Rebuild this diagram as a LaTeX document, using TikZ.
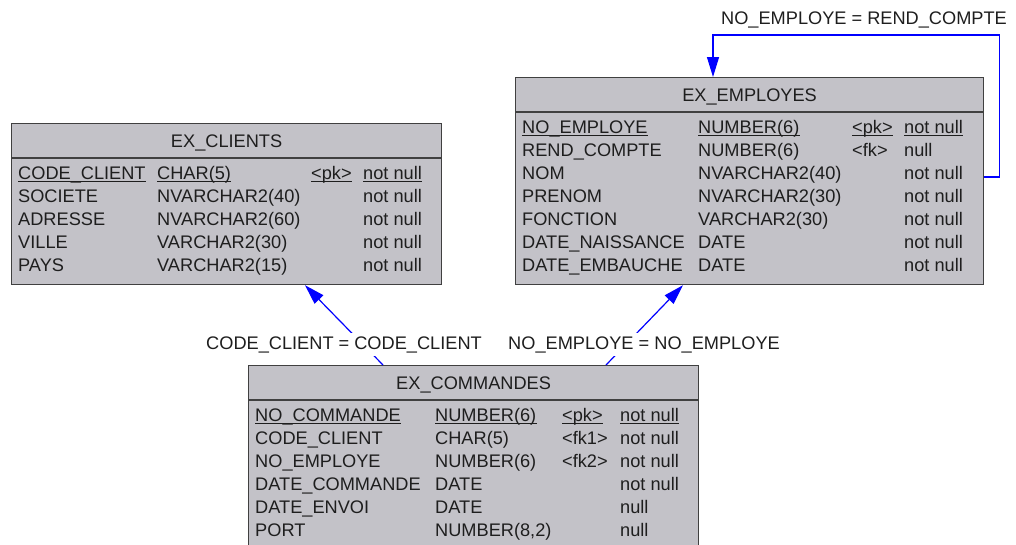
\documentclass[tikz,border=0pt]{standalone}
\usepackage{fontspec}
\setmainfont{Liberation Sans}
\usepackage{xcolor}
\usetikzlibrary{arrows.meta,positioning,calc}

\definecolor{tablefill}{RGB}{195,194,200}
\definecolor{tableborder}{RGB}{64,64,64}
\definecolor{tabletext}{RGB}{30,30,30}
\definecolor{fkblue}{RGB}{0,0,255}

\begin{document}
\begin{tikzpicture}[
  x=1pt, y=-1pt,
  tablebox/.style={rectangle, draw=tableborder, fill=tablefill, line width=1.2pt,
    inner sep=0pt, anchor=north west},
  hline/.style={draw=tableborder, line width=1.2pt},
  tabtitle/.style={font=\fontsize{18.2pt}{22pt}\selectfont, text=tabletext,
    anchor=base, inner sep=0pt},
  colcell/.style={font=\fontsize{18.2pt}{22pt}\selectfont, text=tabletext,
    anchor=base west, inner sep=0pt, text depth=2.7pt},
  pk/.style={colcell, append after command={(\tikzlastnode.south west)
    edge[draw=tabletext, line width=0.9pt] (\tikzlastnode.south east)}},
  joinlabel/.style={font=\fontsize{18.2pt}{22pt}\selectfont, text=tabletext,
    fill=white, inner sep=3pt, anchor=base},
  fk/.style={draw=fkblue, line width=1.2pt, -{Triangle[length=20pt, width=12pt]}},
]
  \useasboundingbox (0,0) rectangle (1016,544);

  % tables
  \node[tablebox, minimum width=430pt, minimum height=161pt] (clients) at (11,123) {};
  \node[tablebox, minimum width=468pt, minimum height=207pt] (employes) at (515,77) {};
  \node[tablebox, minimum width=450pt, minimum height=185pt] (commandes) at (248,365) {};

  \draw[hline] ([yshift=-35pt]clients.north west) -- ([yshift=-35pt]clients.north east);
  \draw[hline] ([yshift=-35pt]employes.north west) -- ([yshift=-35pt]employes.north east);
  \draw[hline] ([yshift=-35pt]commandes.north west) -- ([yshift=-35pt]commandes.north east);

  \node[tabtitle] (clients-title) at ([yshift=-24pt]clients.north) {EX\_CLIENTS};
  \node[tabtitle] (employes-title) at ([yshift=-24pt]employes.north) {EX\_EMPLOYES};
  \node[tabtitle] (commandes-title) at ([yshift=-24pt]commandes.north) {EX\_COMMANDES};

  % EX_CLIENTS
  \node[pk] (cli-nom-0) at ($(clients.north west)+(7,56)$) {CODE\_CLIENT};
  \node[pk] (cli-typ-0) at ($(clients.north west)+(146,56)$) {CHAR(5)};
  \node[pk] (cli-cle-0) at ($(clients.north west)+(300,56)$) {<pk>};
  \node[pk] (cli-nul-0) at ($(clients.north west)+(352,56)$) {not null};
  \foreach \nom/\typ/\nul [count=\i] in {SOCIETE/NVARCHAR2(40)/not null,
      ADRESSE/NVARCHAR2(60)/not null, VILLE/VARCHAR2(30)/not null,
      PAYS/VARCHAR2(15)/not null} {
    \node[colcell] (cli-nom-\i) at ($(clients.north west)+(7,56+23*\i)$) {\nom};
    \node[colcell] (cli-typ-\i) at ($(clients.north west)+(146,56+23*\i)$) {\typ};
    \node[colcell] (cli-nul-\i) at ($(clients.north west)+(352,56+23*\i)$) {\nul};
  }

  % EX_EMPLOYES
  \node[pk] (emp-nom-0) at ($(employes.north west)+(7,56)$) {NO\_EMPLOYE};
  \node[pk] (emp-typ-0) at ($(employes.north west)+(183,56)$) {NUMBER(6)};
  \node[pk] (emp-cle-0) at ($(employes.north west)+(337,56)$) {<pk>};
  \node[pk] (emp-nul-0) at ($(employes.north west)+(389,56)$) {not null};
  \foreach \nom/\typ/\cle/\nul [count=\i] in {REND\_COMPTE/NUMBER(6)/<fk>/null,
      NOM/NVARCHAR2(40)//not null, PRENOM/NVARCHAR2(30)//not null,
      FONCTION/VARCHAR2(30)//not null, DATE\_NAISSANCE/DATE//not null,
      DATE\_EMBAUCHE/DATE//not null} {
    \node[colcell] (emp-nom-\i) at ($(employes.north west)+(7,56+23*\i)$) {\nom};
    \node[colcell] (emp-typ-\i) at ($(employes.north west)+(183,56+23*\i)$) {\typ};
    \node[colcell] (emp-cle-\i) at ($(employes.north west)+(337,56+23*\i)$) {\cle};
    \node[colcell] (emp-nul-\i) at ($(employes.north west)+(389,56+23*\i)$) {\nul};
  }

  % EX_COMMANDES
  \node[pk] (cmd-nom-0) at ($(commandes.north west)+(7,56)$) {NO\_COMMANDE};
  \node[pk] (cmd-typ-0) at ($(commandes.north west)+(187,56)$) {NUMBER(6)};
  \node[pk] (cmd-cle-0) at ($(commandes.north west)+(314,56)$) {<pk>};
  \node[pk] (cmd-nul-0) at ($(commandes.north west)+(372,56)$) {not null};
  \foreach \nom/\typ/\cle/\nul [count=\i] in {CODE\_CLIENT/CHAR(5)/<fk1>/not null,
      NO\_EMPLOYE/NUMBER(6)/<fk2>/not null, DATE\_COMMANDE/DATE//not null,
      DATE\_ENVOI/DATE//null, PORT/{NUMBER(8,2)}//null} {
    \node[colcell] (cmd-nom-\i) at ($(commandes.north west)+(7,56+23*\i)$) {\nom};
    \node[colcell] (cmd-typ-\i) at ($(commandes.north west)+(187,56+23*\i)$) {\typ};
    \node[colcell] (cmd-cle-\i) at ($(commandes.north west)+(314,56+23*\i)$) {\cle};
    \node[colcell] (cmd-nul-\i) at ($(commandes.north west)+(372,56+23*\i)$) {\nul};
  }

  % references
  \coordinate (cmd-cli) at ($(commandes.north west)+(135,0)$);
  \coordinate (cli-cmd) at ($(clients.south west)+(294,0)$);
  \coordinate (cmd-emp) at ($(commandes.north west)+(358,0)$);
  \coordinate (emp-cmd) at ($(employes.south west)+(168,0)$);
  \coordinate (emp-out) at ($(employes.north east)+(0,100)$);
  \coordinate (emp-in) at ($(employes.north west)+(198,0)$);

  \draw[fk] (cmd-cli) -- (cli-cmd);
  \draw[fk] (cmd-emp) -- (emp-cmd);
  \draw[fk] (emp-out) -- ++(15,0) |- ($(emp-in)+(0,-42)$) -- (emp-in);

  \node[joinlabel] (lbl-cli) at (344,349) {CODE\_CLIENT = CODE\_CLIENT};
  \node[joinlabel] (lbl-emp) at (644,349) {NO\_EMPLOYE = NO\_EMPLOYE};
  \node[joinlabel] (lbl-self) at (864,24) {NO\_EMPLOYE = REND\_COMPTE};
\end{tikzpicture}
\end{document}
